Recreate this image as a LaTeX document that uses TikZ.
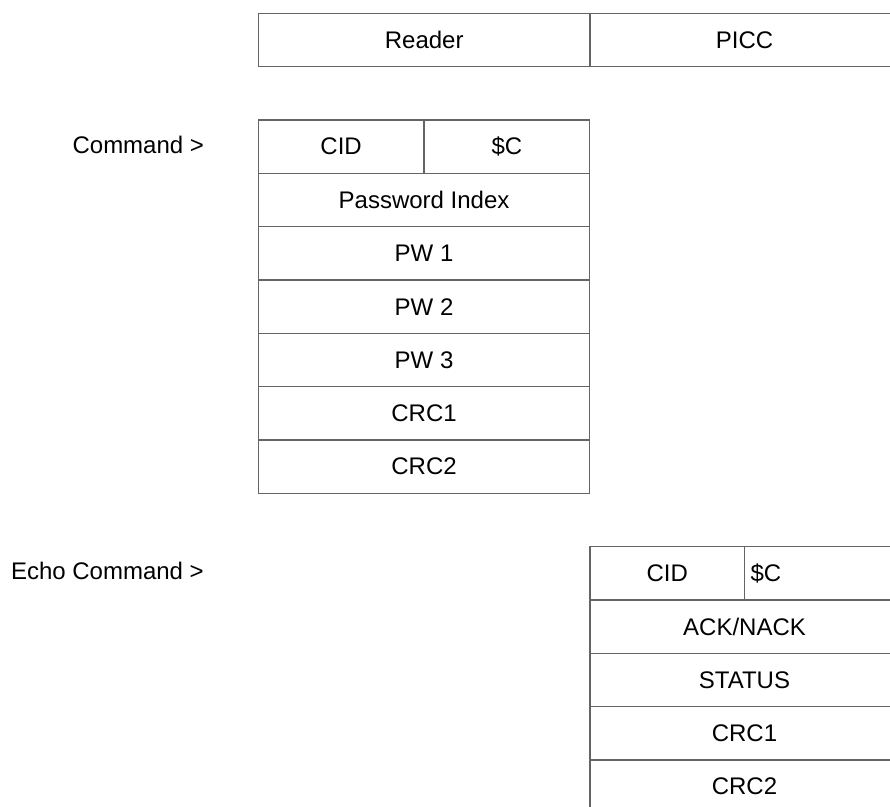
\documentclass[tikz,border=0pt]{standalone}
\usepackage{fontspec}
\setmainfont{Liberation Sans}
\usepackage{tikz}
\usetikzlibrary{positioning}
\definecolor{linegray}{RGB}{100,100,100}
\tikzset{
    cell/.style = {draw=linegray, rectangle, line width=1.2pt,
        minimum height=53.33pt,
        minimum width=331.7pt, inner sep=0pt, outer sep=0pt},
    half/.style = {cell, minimum width=165.85pt},
    wide/.style = {cell, minimum width=309pt},
    narrow/.style = {cell, minimum width=154.5pt},
    lbl/.style = {anchor=east, inner sep=0pt}
}
\begin{document}
\begin{tikzpicture}[x=1pt, y=-1pt, font=\fontsize{24}{28}\selectfont]
            \useasboundingbox (0,0) rectangle (890,806);
            \clip (0,0) rectangle (890,806);
            % header
            \node [cell] (reader) at (424.2,40) {Reader};
            \node [wide, right=0pt of reader] (picc) {PICC};
            % command frame
            \node [half] (cid) at (341.1,146.7) {CID};
            \node [half, right=0pt of cid] (cmd) {\$C};
            \node [cell, below=0pt of cid.south east] (pwidx) {Password Index};
            \node [cell, below=0pt of pwidx] (pw1) {PW 1};
            \node [cell, below=0pt of pw1] (pw2) {PW 2};
            \node [cell, below=0pt of pw2] (pw3) {PW 3};
            \node [cell, below=0pt of pw3] (crc1) {CRC1};
            \node [cell, below=0pt of crc1] (crc2) {CRC2};
            \node [lbl, left=54pt of cid, yshift=2pt] (cmdlbl) {Command >};
            % echo frame
            \node [narrow] (ecid) at (667.25,573.3) {CID};
            \node [narrow, right=0pt of ecid, text width=142.5pt, inner xsep=6pt, align=left] (ecmd) {\$C};
            \node [wide, below=0pt of ecid.south east] (ack) {ACK/NACK};
            \node [wide, below=0pt of ack] (status) {STATUS};
            \node [wide, below=0pt of status] (ecrc1) {CRC1};
            \node [wide, below=0pt of ecrc1] (ecrc2) {CRC2};
            \node [lbl, left=386pt of ecid, yshift=2pt] (echolbl) {Echo Command >};
        \end{tikzpicture}
\end{document}
